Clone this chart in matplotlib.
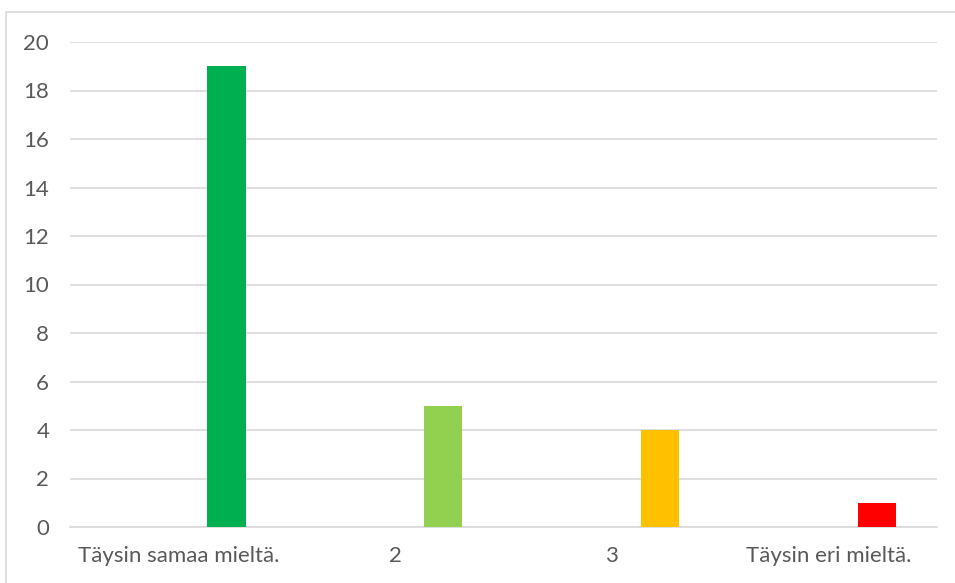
import matplotlib.pyplot as plt
from matplotlib.patches import Rectangle

categories = ["Täysin samaa mieltä.", "2", "3", "Täysin eri mieltä."]
counts = [19, 5, 4, 1]
colors = ["#00B050", "#92D050", "#FFC000", "#FF0000"]
yticks = [0, 2, 4, 6, 8, 10, 12, 14, 16, 18, 20]

plt.rcParams['font.family'] = ['Lato', 'DejaVu Sans']

fig = plt.figure(figsize=(9.55, 5.83), dpi=100)
ax = fig.add_axes([70 / 955, 56 / 583, 867 / 955, 485 / 583])

# chart frame (cut off on the right and bottom)
fig.patches.append(Rectangle((6 / 955, -0.1), 1.1, (583 - 12) / 583 + 0.1,
                             transform=fig.transFigure, fill=False,
                             edgecolor="#D9D9D9", linewidth=1.2))

x = list(range(len(categories)))
bar_x = [i + 0.222 for i in x]
ax.bar(bar_x, counts, width=0.176, color=colors, zorder=3)

ax.set_xlim(-0.5, 3.5)
ax.set_ylim(0, 20)
ax.set_yticks(yticks)
ax.set_xticks(x)
ax.set_xticklabels(categories)
ax.grid(axis="y", color="#D9D9D9", linewidth=1.2, zorder=0)
for s in ["top", "right", "left"]:
    ax.spines[s].set_visible(False)
ax.spines["bottom"].set_color("#D9D9D9")
ax.spines["bottom"].set_linewidth(1.2)
ax.tick_params(axis="both", length=0, colors="#595959", labelsize=16)
ax.tick_params(axis="y", pad=15)
ax.tick_params(axis="x", pad=14)

fig.savefig("out.png", dpi=100)
